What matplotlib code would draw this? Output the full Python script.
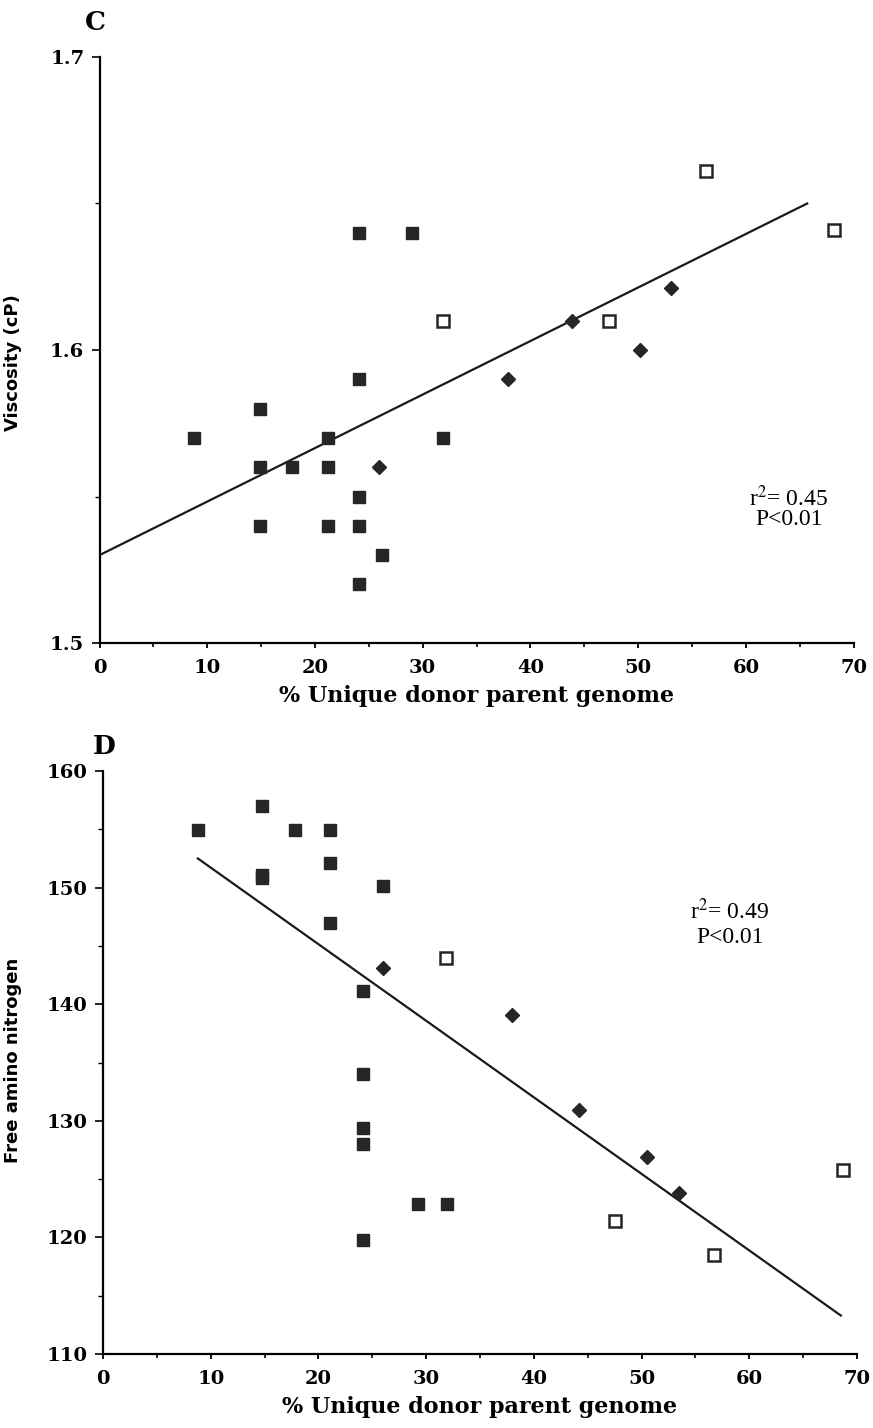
import matplotlib
matplotlib.use("Agg")
import matplotlib.pyplot as plt
from matplotlib.ticker import MultipleLocator, FormatStrFormatter

plt.rcParams["mathtext.fontset"] = "stix"

# Panel C: viscosity (cP)
visc_sq_x = [8.8, 14.9, 14.9, 14.9, 17.9, 21.2, 21.2, 21.2, 24.1, 24.1, 24.1, 24.1, 24.1, 26.2, 29.0, 31.9]
visc_sq_y = [1.570, 1.580, 1.560, 1.540, 1.560, 1.570, 1.560, 1.540, 1.640, 1.590, 1.550, 1.540, 1.520, 1.530, 1.640, 1.570]
visc_dia_x = [25.9, 37.9, 43.9, 50.2, 53.1]
visc_dia_y = [1.560, 1.590, 1.610, 1.600, 1.621]
visc_open_x = [31.9, 47.3, 56.3, 68.2]
visc_open_y = [1.610, 1.610, 1.661, 1.641]
visc_fit_x = [0, 65.7]
visc_fit_y = [1.530, 1.650]
visc_stats = ["r$^2$= 0.45", "P<0.01"]

# Panel D: free amino nitrogen
fan_sq_x = [8.8, 14.8, 14.8, 14.8, 17.8, 21.1, 21.1, 21.1, 24.1, 24.1, 24.1, 24.1, 24.1, 26.0, 29.2, 31.9]
fan_sq_y = [154.9, 157.0, 151.1, 150.8, 154.9, 154.9, 152.1, 147.0, 141.1, 134.0, 129.4, 128.0, 119.8, 150.1, 122.9, 122.9]
fan_dia_x = [26.0, 38.0, 44.2, 50.5, 53.5]
fan_dia_y = [143.1, 139.1, 130.9, 126.9, 123.8]
fan_open_x = [31.8, 47.5, 56.7, 68.7]
fan_open_y = [144.0, 121.4, 118.5, 125.8]
fan_fit_x = [8.8, 68.5]
fan_fit_y = [152.5, 113.3]
fan_stats = ["r$^2$= 0.49", "P<0.01"]

XLABEL = "% Unique donor parent genome"
DARK = "#262626"


def style_axes(ax, ymaj, ymin, yfmt):
    for side in ("top", "right"):
        ax.spines[side].set_visible(False)
    for side in ("left", "bottom"):
        ax.spines[side].set_linewidth(1.6)
        ax.spines[side].set_color("black")
    ax.set_xlim(0, 70)
    ax.xaxis.set_major_locator(MultipleLocator(10))
    ax.xaxis.set_minor_locator(MultipleLocator(5))
    ax.yaxis.set_major_locator(MultipleLocator(ymaj))
    ax.yaxis.set_minor_locator(MultipleLocator(ymin))
    ax.yaxis.set_major_formatter(FormatStrFormatter(yfmt))
    ax.tick_params(axis="x", which="major", direction="out", length=3.5, width=1.3, pad=8)
    ax.tick_params(axis="x", which="minor", direction="out", length=3, width=1.2)
    ax.tick_params(axis="y", which="major", direction="out", length=6, width=1.2, pad=5)
    ax.tick_params(axis="y", which="minor", direction="out", length=3.5, width=1.0)
    for lab in ax.get_xticklabels() + ax.get_yticklabels():
        lab.set_fontfamily("DejaVu Serif")
        lab.set_fontweight("bold")
        lab.set_fontsize(14)
    ax.set_xlabel(XLABEL, fontfamily="DejaVu Serif", fontweight="bold", fontsize=16, labelpad=6)


def draw_points(ax, sq_x, sq_y, dia_x, dia_y, open_x, open_y, fit_x, fit_y):
    ax.plot(fit_x, fit_y, color="#1a1a1a", lw=1.6, zorder=2)
    ax.plot(sq_x, sq_y, "s", ms=8, color=DARK, mec=DARK, ls="none", zorder=3)
    ax.plot(dia_x, dia_y, "D", ms=6.8, color=DARK, mec=DARK, ls="none", zorder=3)
    ax.plot(open_x, open_y, "s", ms=8, mfc="white", mec=DARK, mew=1.8, ls="none", zorder=3)


def stats_text(ax, x, y1, y2, lines):
    ax.text(x, y1, lines[0], ha="center", va="center",
            fontfamily="Liberation Serif", fontsize=17)
    ax.text(x, y2, lines[1], ha="center", va="center",
            fontfamily="Liberation Serif", fontsize=17)


def main():
    fig = plt.figure(figsize=(8.73, 14.28), dpi=100)

    # Panel C
    ax1 = fig.add_axes([0.1140, 0.5497, 0.8637, 0.4104])
    draw_points(ax1, visc_sq_x, visc_sq_y, visc_dia_x, visc_dia_y,
                visc_open_x, visc_open_y, visc_fit_x, visc_fit_y)
    ax1.set_ylim(1.5, 1.7)
    style_axes(ax1, 0.1, 0.05, "%.1f")
    ax1.set_ylabel("Viscosity (cP)", fontfamily="DejaVu Sans", fontweight="bold", fontsize=13)
    ax1.yaxis.set_label_coords(-0.103, 0.478)
    stats_text(ax1, 64.0, 1.5495, 1.5420, visc_stats)

    # Panel D
    ax2 = fig.add_axes([0.1180, 0.0518, 0.8637, 0.4083])
    draw_points(ax2, fan_sq_x, fan_sq_y, fan_dia_x, fan_dia_y,
                fan_open_x, fan_open_y, fan_fit_x, fan_fit_y)
    ax2.set_ylim(110, 160)
    style_axes(ax2, 10, 5, "%d")
    ax2.set_ylabel("Free amino nitrogen", fontfamily="DejaVu Sans", fontweight="bold", fontsize=13)
    ax2.yaxis.set_label_coords(-0.107, 0.504)
    stats_text(ax2, 58.2, 148.0, 145.7, fan_stats)

    fig.text(95 / 873, 1 - 22 / 1428, "C", ha="center", va="center",
             fontfamily="DejaVu Serif", fontweight="bold", fontsize=19)
    fig.text(104 / 873, 1 - 747 / 1428, "D", ha="center", va="center",
             fontfamily="DejaVu Serif", fontweight="bold", fontsize=19)

    fig.savefig("out.png", dpi=100)


if __name__ == "__main__":
    main()
